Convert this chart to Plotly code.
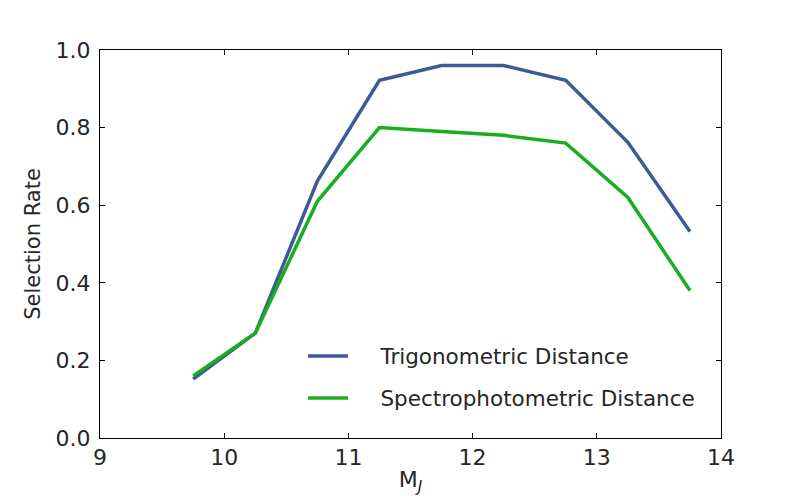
"""Selection rate vs absolute J magnitude."""

import plotly.graph_objects as go

M_J = [9.75, 10.25, 10.75, 11.25, 11.75, 12.25, 12.75, 13.25, 13.75]
trig_rate = [0.152, 0.27, 0.662, 0.922, 0.96, 0.96, 0.922, 0.762, 0.532]
spec_rate = [0.16, 0.27, 0.61, 0.80, 0.79, 0.78, 0.76, 0.62, 0.38]

FONT = "DejaVu Sans"
TEXT = "#262626"
PAD = "\u00a0\u00a0\u00a0\u00a0"

fig = go.Figure()
fig.add_trace(go.Scatter(x=M_J, y=trig_rate, mode="lines", name=PAD + "Trigonometric Distance",
                         legendgroup="trig", line=dict(color="#3a5b95", width=3.5)))
fig.add_trace(go.Scatter(x=M_J, y=spec_rate, mode="lines", name=PAD + "Spectrophotometric Distance",
                         legendgroup="spec", line=dict(color="#1aad1f", width=3.5)))

axis = dict(showline=True, linecolor="#000000", linewidth=1, mirror="ticks",
            ticks="inside", ticklen=5, tickcolor="#000000", showgrid=False,
            zeroline=False, automargin=False,
            tickfont=dict(size=22, color=TEXT, family=FONT))
fig.update_xaxes(range=[9, 14], dtick=1, title=dict(text="M<sub><i>J</i></sub>", standoff=2,
                 font=dict(size=22, color=TEXT, family=FONT)), **axis)
fig.update_yaxes(range=[0, 1], dtick=0.2, tickformat=".1f", ticklabelstandoff=4,
                 title=dict(text="Selection Rate", standoff=9, font=dict(size=21, color=TEXT, family=FONT)),
                 **axis)

# page body adds an 8px offset, so margins are shifted to land the axes where the reference has them
fig.update_layout(
    width=800, height=500,
    margin=dict(l=92, r=87, t=42, b=70),
    plot_bgcolor="white", paper_bgcolor="white",
    font=dict(family=FONT, color=TEXT),
    legend=dict(x=0.327, y=0.264, xanchor="left", yanchor="top", bgcolor="rgba(0,0,0,0)",
                font=dict(size=21.5, color=TEXT, family=FONT), itemwidth=40, tracegroupgap=11),
)

fig.write_html("out.html")
